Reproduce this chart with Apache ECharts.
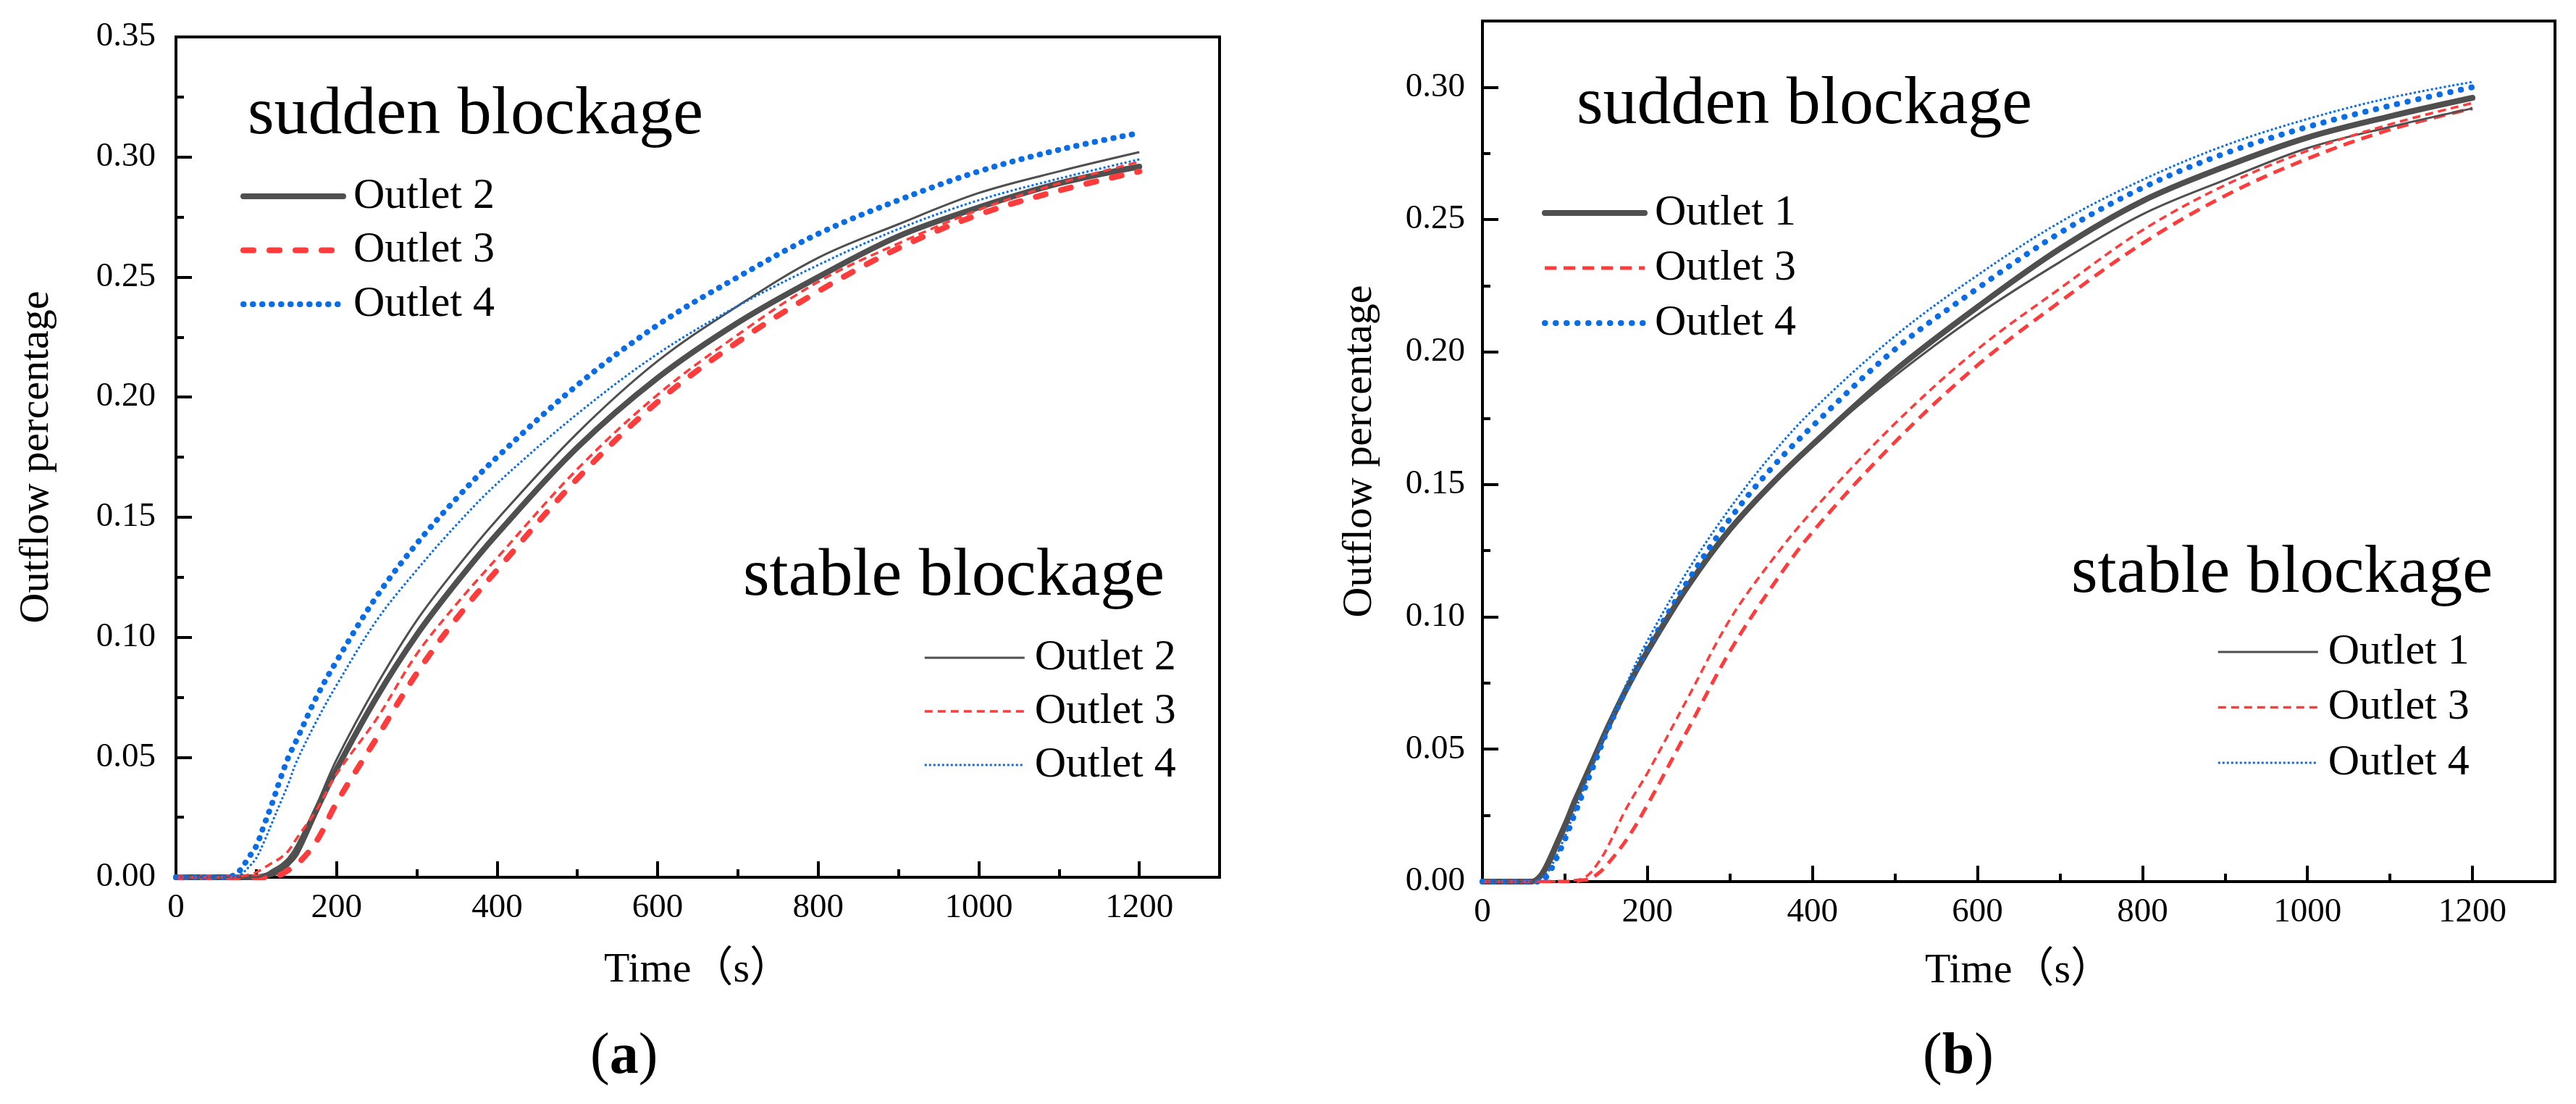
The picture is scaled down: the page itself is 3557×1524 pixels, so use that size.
<!DOCTYPE html>
<html>
<head>
<meta charset="utf-8">
<script src="https://cdn.jsdelivr.net/npm/echarts@6/dist/echarts.min.js"></script>
<style>
html,body{margin:0;padding:0;background:#fff;}
#c{width:3557px;height:1524px;}
</style>
</head>
<body>
<div id="c"></div>
<script>
// ---- data ----
const times = [0, 60, 70, 80, 90, 100, 110, 120, 130, 140, 150, 175, 200, 250, 300, 350, 400, 500, 600, 700, 800, 900, 1000, 1100, 1200];

// (a) sudden blockage
const aSudden2 = [0,0,0,0,0,0,0.0005,0.0015,0.003,0.006,0.010,0.028,0.045,0.075,0.101,0.123,0.143,0.179,0.208,0.231,0.250,0.267,0.279,0.289,0.296];
const aSudden3 = [0,0,0,0,0,0,0,0.0005,0.001,0.003,0.005,0.015,0.031,0.058,0.085,0.108,0.128,0.166,0.198,0.223,0.244,0.262,0.276,0.286,0.294];
const aSudden4 = [0,0,0.0005,0.003,0.008,0.013,0.022,0.031,0.041,0.050,0.057,0.075,0.090,0.117,0.139,0.158,0.175,0.205,0.230,0.250,0.268,0.282,0.294,0.303,0.310];
// (a) stable blockage
const aStable2 = [0,0,0,0,0,0,0.001,0.003,0.005,0.008,0.013,0.030,0.049,0.080,0.107,0.129,0.149,0.185,0.215,0.238,0.258,0.272,0.285,0.294,0.302];
const aStable3 = [0,0,0,0.0003,0.001,0.002,0.004,0.006,0.008,0.011,0.016,0.028,0.043,0.066,0.093,0.114,0.133,0.170,0.201,0.226,0.248,0.264,0.278,0.289,0.298];
const aStable4 = [0,0,0,0.001,0.004,0.008,0.015,0.023,0.031,0.039,0.048,0.065,0.080,0.107,0.128,0.147,0.164,0.193,0.218,0.238,0.255,0.270,0.282,0.291,0.299];

// (b) sudden blockage
const bSudden1 = [0,0,0.002,0.007,0.014,0.021,0.029,0.036,0.043,0.050,0.057,0.073,0.087,0.112,0.133,0.150,0.165,0.193,0.217,0.239,0.257,0.270,0.281,0.289,0.296];
const bSudden3 = [0,0,0,0,0,0,0,0.0005,0.001,0.003,0.006,0.016,0.029,0.058,0.087,0.111,0.132,0.166,0.195,0.219,0.241,0.259,0.273,0.284,0.292];
const bSudden4 = [0,0,0,0.003,0.009,0.016,0.024,0.032,0.040,0.048,0.056,0.073,0.088,0.114,0.137,0.156,0.172,0.201,0.224,0.245,0.262,0.275,0.285,0.293,0.300];
// (b) stable blockage
const bStable1 = [0,0,0.003,0.009,0.016,0.023,0.030,0.037,0.044,0.051,0.058,0.074,0.088,0.112,0.133,0.150,0.165,0.191,0.214,0.234,0.252,0.265,0.277,0.285,0.292];
const bStable3 = [0,0,0,0,0,0,0.0005,0.001,0.003,0.007,0.012,0.028,0.041,0.070,0.099,0.121,0.140,0.173,0.201,0.224,0.246,0.263,0.276,0.286,0.294];
const bStable4 = [0,0,0.001,0.004,0.010,0.017,0.025,0.033,0.041,0.049,0.057,0.075,0.091,0.118,0.141,0.161,0.178,0.206,0.229,0.249,0.265,0.278,0.288,0.296,0.302];

const xTickLabels = [0, 200, 400, 600, 800, 1000, 1200];
const yTickLabelsA = [0, 0.05, 0.10, 0.15, 0.20, 0.25, 0.30, 0.35];
const yTickLabelsB = [0, 0.05, 0.10, 0.15, 0.20, 0.25, 0.30];
const axisTitleX = 'Time（s）';
const axisTitleY = 'Outflow percentage';
const groupTitles = ['sudden blockage', 'stable blockage'];
const panelLabels = ['a', 'b'];

// ---- styling ----
const GRAY = '#4f4f4f', RED = '#ff3b3b', BLUE = '#0b6de5';
const SERIF = 'Liberation Serif';
const SERIF_CJK = 'Liberation Serif, Noto Sans CJK SC';

function pairs(vals) { return times.map((t, i) => [t, vals[i]]); }

function mkSeries(name, vals, gi, color, width, type, cap) {
  return {
    type: 'line', name: name, xAxisIndex: gi * 2, yAxisIndex: gi * 2,
    data: pairs(vals), symbol: 'none', smooth: 0.35,
    lineStyle: { color: color, width: width, type: type, cap: cap || 'butt', join: 'round' },
    itemStyle: { color: color }, silent: true, z: 3
  };
}

const series = [
  mkSeries('sa|Outlet 2', aSudden2, 0, GRAY, 8, 'solid', 'round'),
  mkSeries('sa|Outlet 3', aSudden3, 0, RED, 8, [14, 22], 'round'),
  mkSeries('sa|Outlet 4', aSudden4, 0, BLUE, 8, [0.5, 12.5], 'round'),
  mkSeries('ta|Outlet 2', aStable2, 0, GRAY, 3, 'solid'),
  mkSeries('ta|Outlet 3', aStable3, 0, RED, 3.5, [11, 7]),
  mkSeries('ta|Outlet 4', aStable4, 0, BLUE, 3, [3, 3]),
  mkSeries('sb|Outlet 1', bSudden1, 1, GRAY, 8, 'solid', 'round'),
  mkSeries('sb|Outlet 3', bSudden3, 1, RED, 5, [16, 10]),
  mkSeries('sb|Outlet 4', bSudden4, 1, BLUE, 8, [0.5, 14.5], 'round'),
  mkSeries('tb|Outlet 1', bStable1, 1, GRAY, 3, 'solid'),
  mkSeries('tb|Outlet 3', bStable3, 1, RED, 3.5, [11, 7]),
  mkSeries('tb|Outlet 4', bStable4, 1, BLUE, 3, [3, 3])
];

const grids = [
  { left: 243, top: 51, width: 1441, height: 1160 },
  { left: 2047, top: 29, width: 1481, height: 1188 }
].map(g => Object.assign(g, { show: true, borderColor: '#000', borderWidth: 4, backgroundColor: 'transparent', containLabel: false }));

const yMax = [0.35, 0.325];
const yLabelSets = [yTickLabelsA, yTickLabelsB];
const yLabelMargin = [28, 24];
const yNameGap = [163, 140];
const xNameGap = [100, 95];

function inSet(set, v) { return set.some(s => Math.abs(s - v) < 1e-6); }

const xAxes = [], yAxes = [];
[0, 1].forEach(gi => {
  xAxes.push({
    type: 'value', gridIndex: gi, position: 'bottom', min: 0, max: 1300, interval: 200,
    name: axisTitleX, nameLocation: 'middle', nameGap: xNameGap[gi],
    nameTextStyle: { fontFamily: SERIF_CJK, fontSize: 58, color: '#000' },
    axisLine: { show: true, onZero: false, lineStyle: { color: '#000', width: 4 } },
    axisTick: { show: true, inside: true, length: 22, lineStyle: { color: '#000', width: 4 } },
    axisLabel: { show: true, margin: 19, fontFamily: SERIF, fontSize: 47, color: '#000',
      formatter: v => (inSet(xTickLabels, v) ? String(v) : '') },
    splitLine: { show: false }
  });
  xAxes.push({
    type: 'value', gridIndex: gi, position: 'bottom', min: 0, max: 1300, interval: 100,
    axisLine: { show: false }, axisLabel: { show: false }, splitLine: { show: false },
    axisTick: { show: true, inside: true, length: 11, lineStyle: { color: '#000', width: 4 } }
  });
  yAxes.push({
    type: 'value', gridIndex: gi, position: 'left', min: 0, max: yMax[gi], interval: 0.05,
    name: axisTitleY, nameLocation: 'middle', nameGap: yNameGap[gi], nameRotate: 90,
    nameTextStyle: { fontFamily: SERIF, fontSize: 58, color: '#000' },
    axisLine: { show: true, onZero: false, lineStyle: { color: '#000', width: 4 } },
    axisTick: { show: true, inside: true, length: 22, lineStyle: { color: '#000', width: 4 } },
    axisLabel: { show: true, margin: yLabelMargin[gi], fontFamily: SERIF, fontSize: 47, color: '#000',
      formatter: v => (inSet(yLabelSets[gi], v) ? v.toFixed(2) : '') },
    splitLine: { show: false }
  });
  yAxes.push({
    type: 'value', gridIndex: gi, position: 'left', min: 0, max: yMax[gi], interval: 0.025,
    axisLine: { show: false }, axisLabel: { show: false }, splitLine: { show: false },
    axisTick: { show: true, inside: true, length: 11, lineStyle: { color: '#000', width: 4 } }
  });
});

function mkLegend(prefix, names, left, top, gap, widths) {
  return {
    orient: 'vertical', left: left, top: top, padding: 0, itemGap: gap,
    itemWidth: 138, itemHeight: 1, selectedMode: false,
    itemStyle: { opacity: 0 },
    lineStyle: { width: 'inherit' },
    textStyle: { fontFamily: SERIF, fontSize: 60, lineHeight: 60, color: '#000', padding: [0, 0, 0, 9] },
    formatter: n => n.split('|')[1],
    data: names.map((n, i) => ({ name: prefix + '|' + n, lineStyle: { width: widths[i] } }))
  };
}

const legends = [
  mkLegend('sa', ['Outlet 2', 'Outlet 3', 'Outlet 4'], 332, 241, 14.5, [8, 8, 8]),
  mkLegend('ta', ['Outlet 2', 'Outlet 3', 'Outlet 4'], 1275, 878, 14, [3, 3.5, 3]),
  mkLegend('sb', ['Outlet 1', 'Outlet 3', 'Outlet 4'], 2129, 264, 16, [8, 5, 8]),
  mkLegend('tb', ['Outlet 1', 'Outlet 3', 'Outlet 4'], 3061, 870, 16.5, [3, 3.5, 3])
];

function mkTitle(text, left, top) {
  return { text: text, left: left, top: top, padding: 0,
    textStyle: { fontFamily: SERIF, fontSize: 94, lineHeight: 94, fontWeight: 'normal', color: '#000' } };
}
const titles = [
  mkTitle(groupTitles[0], 342, 112),
  mkTitle(groupTitles[1], 1026, 749),
  mkTitle(groupTitles[0], 2177, 98),
  mkTitle(groupTitles[1], 2860, 745)
];

function panelLabel(letter, cx) {
  return {
    type: 'text', left: cx - 45, top: 1420,
    style: {
      text: '{p|(}{b|' + letter + '}{p|)}',
      rich: {
        p: { fontFamily: SERIF, fontSize: 80, fill: '#000' },
        b: { fontFamily: SERIF, fontSize: 80, fontWeight: 'bold', fill: '#000' }
      }
    }
  };
}

const chart = echarts.init(document.getElementById('c'), null, { renderer: 'canvas' });
chart.setOption({
  animation: false,
  backgroundColor: '#fff',
  title: titles,
  legend: legends,
  grid: grids,
  xAxis: xAxes,
  yAxis: yAxes,
  series: series,
  graphic: [panelLabel(panelLabels[0], 860), panelLabel(panelLabels[1], 2700)]
});
</script>
</body>
</html>
